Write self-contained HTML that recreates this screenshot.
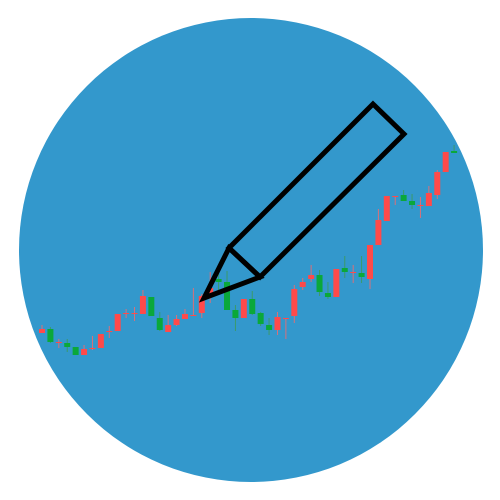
<!DOCTYPE html>
<html><head><meta charset="utf-8"><style>html,body{margin:0;padding:0;background:#fff}svg{display:block}</style></head>
<body>
<svg id="chart" width="500" height="500" viewBox="0 0 500 500">
<circle cx="251" cy="250" r="232" fill="#3398cc"/>
<g id="candles"></g>
<g fill="none" stroke="#000" stroke-width="5" stroke-linejoin="miter">
<polygon points="373,104 404,134 260,277 229,248"/>
<polygon points="229,248 204,298 260,277"/>
</g>
</svg>
<script>
// price = 500 - pixel y
const opens  = [167,171,158,157,153,145,152,152,169,169,186,187,186,203,182,168,175,181,185,187,207,221,218,190,182,201,187,175,170,182,184,213,221,225,207,203,232,228,227,221,255,279,304,305,299,295,294,305,328,349];
const closes = [171,158,158,153,145,151,152,166,169,186,187,187,204,184,170,175,181,186,185,204,212,218,190,182,201,186,176,170,183,182,211,218,225,208,203,231,228,228,223,255,280,304,304,299,295,295,307,328,348,347];
const highs  = [175,173,161,161,153,155,164,166,174,186,191,193,210,203,188,185,185,191,212,206,228,228,229,195,201,209,188,182,188,182,215,222,235,230,218,231,244,235,244,255,291,304,304,310,306,303,314,330,348,355];
const lows   = [167,157,152,148,145,145,150,152,162,169,182,179,186,184,169,168,174,183,185,182,197,210,190,169,182,185,174,165,165,161,177,210,218,204,201,203,222,217,217,211,269,291,295,300,291,282,307,301,328,347];
const xScale = i => 42 + i * 8.41;
const yScale = v => 500 - v;
const g = document.getElementById('candles');
const NS = 'http://www.w3.org/2000/svg';
for (let i = 0; i < opens.length; i++) {
  const up = closes[i] >= opens[i];
  const col = up ? '#ff4a4a' : '#0aa83a';
  const x = xScale(i);
  const wick = document.createElementNS(NS, 'line');
  
  
  wick.setAttribute('x1', x); wick.setAttribute('x2', x);
  wick.setAttribute('y1', yScale(highs[i])); wick.setAttribute('y2', yScale(lows[i]));
  wick.setAttribute('stroke', up ? '#d8707a' : '#3a9a6a'); wick.setAttribute('stroke-width', 1);
  g.appendChild(wick);
  const top = yScale(Math.max(opens[i], closes[i]));
  const h = Math.max(1, Math.abs(opens[i] - closes[i]));
  const body = document.createElementNS(NS, 'rect');
  
  
  body.setAttribute('x', x - 3); body.setAttribute('width', 6);
  body.setAttribute('y', top); body.setAttribute('height', h);
  body.setAttribute('fill', col);
  g.appendChild(body);
}
</script>
</body></html>
